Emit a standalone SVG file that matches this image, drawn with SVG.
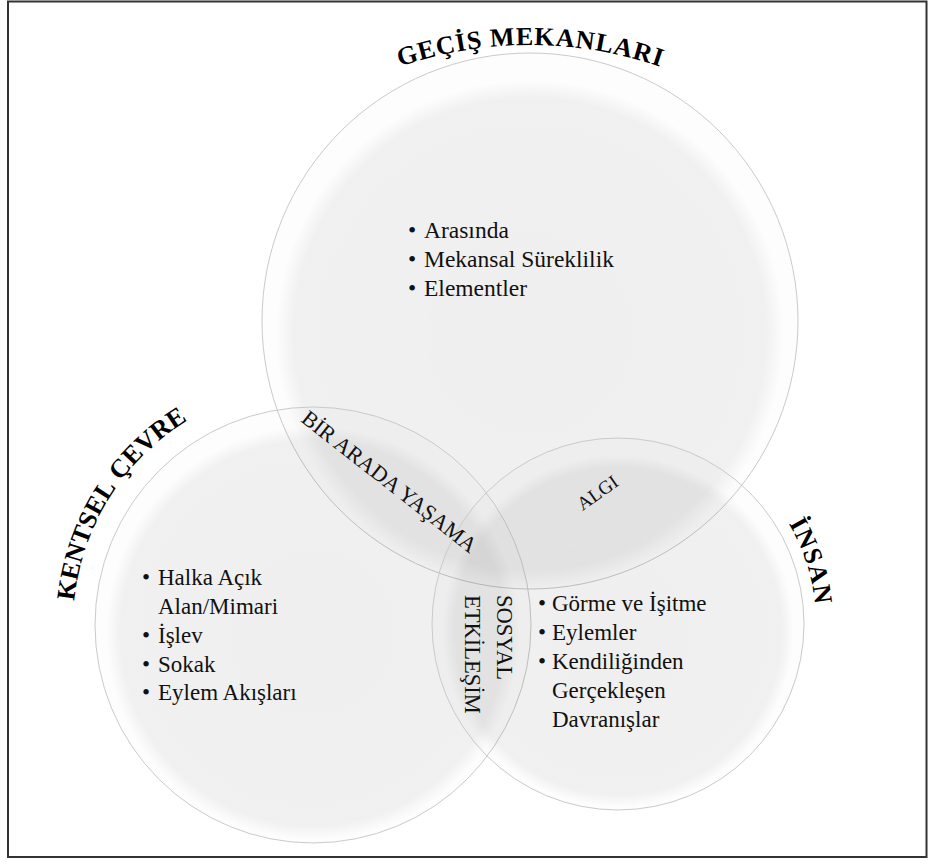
<svg xmlns="http://www.w3.org/2000/svg" width="935" height="865" viewBox="0 0 935 865">
<defs>
<radialGradient id="disk" cx="0.5" cy="0.5" r="0.5">
<stop offset="0" stop-color="#000" stop-opacity="0.056"/>
<stop offset="0.93" stop-color="#000" stop-opacity="0.05"/>
<stop offset="1" stop-color="#000" stop-opacity="0"/>
</radialGradient>
<path id="arcTop" d="M130,445 A400,400 0 0 1 930,445"/>
<path id="arcLeft" d="M73,625 A240,240 0 0 1 313,385"/>
<path id="arcRight" d="M717,452.5 A198,198 0 0 1 789.5,723"/>
</defs>
<style>
.ring{fill:#000;fill-opacity:0.008;stroke:#cacaca;stroke-width:1}
.t{font-family:"Liberation Serif","Times New Roman",serif;font-size:23px;fill:#111}
.tt{font-family:"Liberation Serif","Times New Roman",serif;font-size:23.5px;fill:#111}
.tl{font-family:"Liberation Serif","Times New Roman",serif;font-size:23px;fill:#111}
.title{font-family:"Liberation Serif","Times New Roman",serif;font-weight:bold;font-size:26px;fill:#000}
.ov{font-family:"Liberation Serif","Times New Roman",serif;font-size:22px;fill:#111}
</style>
<rect x="8" y="1.5" width="918.5" height="855.5" fill="#fff" stroke="#333" stroke-width="2"/>

<g id="gecis-mekanlari">
<circle class="ring" cx="530" cy="321" r="268"/>
<circle cx="530" cy="334" r="254" fill="url(#disk)"/>
</g>
<g id="kentsel-cevre">
<circle class="ring" cx="313" cy="625" r="218"/>
<circle cx="313" cy="633" r="207" fill="url(#disk)"/>
</g>
<g id="insan">
<circle class="ring" cx="618" cy="624" r="186"/>
<circle cx="618" cy="631" r="176" fill="url(#disk)"/>
</g>

<g id="labels-gecis">
<text class="title"><textPath href="#arcTop" startOffset="50%" text-anchor="middle" textLength="265" lengthAdjust="spacing">GEÇİŞ MEKANLARI</textPath></text>
<text class="tt" x="408" y="238">•</text><text class="tt" x="424" y="238">Arasında</text>
<text class="tt" x="408" y="267">•</text><text class="tt" x="424" y="267">Mekansal Süreklilik</text>
<text class="tt" x="408" y="296">•</text><text class="tt" x="424" y="296">Elementler</text>
</g>
<g id="labels-kentsel">
<text class="title"><textPath href="#arcLeft" startOffset="24">KENTSEL</textPath></text>
<text class="title"><textPath href="#arcLeft" startOffset="154">ÇEVRE</textPath></text>
<text class="tl" x="142" y="585">•</text><text class="tl" x="158" y="585">Halka Açık</text>
<text class="tl" x="158" y="614">Alan/Mimari</text>
<text class="tl" x="142" y="643">•</text><text class="tl" x="158" y="643">İşlev</text>
<text class="tl" x="142" y="672">•</text><text class="tl" x="158" y="672">Sokak</text>
<text class="tl" x="142" y="700">•</text><text class="tl" x="158" y="700">Eylem Akışları</text>
</g>
<g id="labels-insan">
<text class="title"><textPath href="#arcRight" startOffset="145" text-anchor="middle" textLength="86" lengthAdjust="spacing">İNSAN</textPath></text>
<text class="t" x="538" y="611">•</text><text class="t" x="552" y="611">Görme ve İşitme</text>
<text class="t" x="538" y="640">•</text><text class="t" x="552" y="640">Eylemler</text>
<text class="t" x="538" y="669">•</text><text class="t" x="552" y="669">Kendiliğinden</text>
<text class="t" x="552" y="698">Gerçekleşen</text>
<text class="t" x="552" y="727">Davranışlar</text>
</g>
<g id="overlaps">
<text class="ov" transform="translate(300,421) rotate(38)">BİR ARADA YAŞAMA</text>
<text class="ov" transform="translate(601,498) rotate(-35)" text-anchor="middle" style="font-size:19px">ALGI</text>
<text class="t" style="font-size:22.5px" transform="translate(497,595) rotate(90)">SOSYAL</text>
<text class="t" style="font-size:22.5px" transform="translate(465,595) rotate(90)">ETKİLEŞİM</text>
</g>
</svg>
